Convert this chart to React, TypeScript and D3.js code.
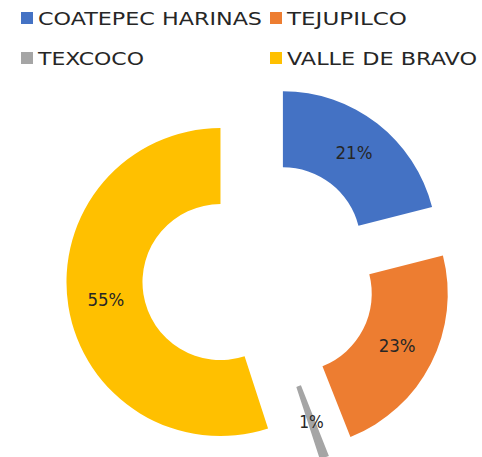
import React from 'react';
import * as d3 from 'd3';

const categories = ['COATEPEC HARINAS', 'TEJUPILCO', 'TEXCOCO', 'VALLE DE BRAVO'];
const values = [21, 23, 1, 55];
const colors = ['#4472C4', '#ED7D31', '#A5A5A5', '#FFC000'];
// rendered widths of the legend labels (the original font is much wider than DejaVu)
const legendTextWidths = [224, 120, 106, 190];

const width = 482;
const height = 457;
const cx = 259;
const cy = 276;
const outerR = 154;
const innerR = 78;
const explode = 39;

interface Slice {
    name: string;
    value: number;
    color: string;
}

export default function App() {
    const data: Slice[] = categories.map((name, i) => ({ name, value: values[i], color: colors[i] }));
    const pie = d3.pie<Slice>().value(d => d.value).sort(null);
    const arcs = pie(data);
    const arc = d3.arc<d3.PieArcDatum<Slice>>().innerRadius(innerR).outerRadius(outerR);
    const total = d3.sum(values);

    // legend layout: 2 columns, 2 rows
    const legendX = d3.scaleOrdinal<number>().domain(['0', '1']).range([21, 270]);
    const legendY = d3.scaleOrdinal<number>().domain(['0', '1']).range([12, 52]);

    return (
        <div style={{ position: 'fixed', left: 0, top: 0 }}>
            <svg width={width} height={height} style={{ display: 'block', background: '#fff' }}>
                {arcs.map(a => {
                    const mid = (a.startAngle + a.endAngle) / 2;
                    const dx = Math.sin(mid) * explode;
                    const dy = -Math.cos(mid) * explode;
                    const [lx, ly] = arc.centroid(a);
                    const label = `${Math.round((a.data.value / total) * 100)}%`;
                    return (
                        <g key={a.data.name} transform={`translate(${cx + dx},${cy + dy})`}>
                            <path d={arc(a) || ''} fill={a.data.color} />
                            <text
                                x={lx}
                                y={ly}
                                dy="0.35em"
                                textAnchor="middle"
                                fontFamily="'DejaVu Sans', sans-serif"
                                fontSize={17}
                                fill="#262626"
                                textLength={label.length * 12.3}
                                lengthAdjust="spacingAndGlyphs"
                            >
                                {label}
                            </text>
                        </g>
                    );
                })}
                {data.map((d, i) => {
                    const x = legendX(String(i % 2));
                    const y = legendY(String(Math.floor(i / 2)));
                    return (
                        <g key={d.name} transform={`translate(${x},${y})`}>
                            <rect width={12} height={12} fill={d.color} />
                            <text
                                x={17}
                                y={13}
                                fontFamily="'DejaVu Sans', sans-serif"
                                fontSize={17}
                                fill="#262626"
                                textLength={legendTextWidths[i]}
                                lengthAdjust="spacingAndGlyphs"
                            >
                                {d.name}
                            </text>
                        </g>
                    );
                })}
            </svg>
        </div>
    );
}
